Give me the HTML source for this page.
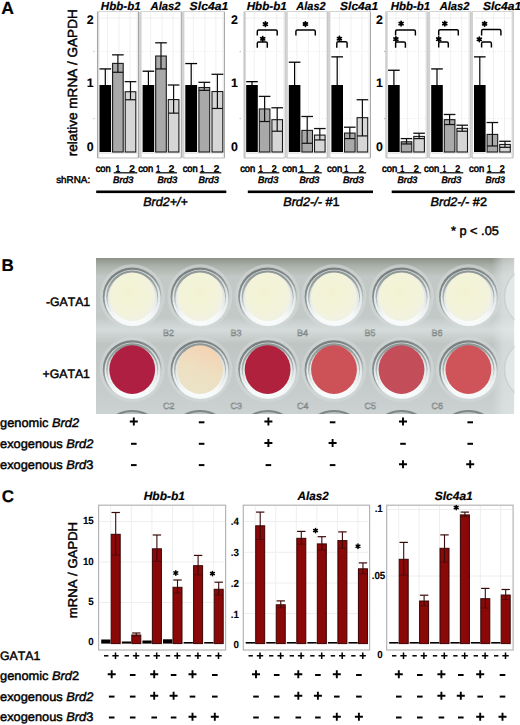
<!DOCTYPE html>
<html><head><meta charset="utf-8"><style>
html,body{margin:0;padding:0;background:#fff;}
svg{display:block;}
text{font-kerning:none;text-rendering:geometricPrecision;}
</style></head><body>
<svg width="520" height="725" viewBox="0 0 520 725" font-family='"Liberation Sans", sans-serif'>
<rect width="520" height="725" fill="#fff"/>
<text transform="translate(1.2,13.6) scale(1.0,1)" font-size="17.6" font-weight="bold" font-style="normal" text-anchor="start" fill="#000" stroke="#000" stroke-width="0.2" >A</text>
<text transform="translate(76.8,156.2) rotate(-90) scale(1.02,1)" font-size="13.3" fill="#000" stroke="#000" stroke-width="0.45">relative mRNA / GAPDH</text>
<rect x="97.50" y="11.50" width="41.00" height="146.50" fill="#fff" />
<line x1="97.50" y1="11.50" x2="97.50" y2="158.00" stroke="#a8a8a8" stroke-width="1.1" />
<rect x="98.00" y="11.50" width="1.30" height="146.50" fill="#dcdcdc" />
<line x1="138.50" y1="11.50" x2="138.50" y2="158.00" stroke="#a6a6a6" stroke-width="1.1" />
<rect x="136.70" y="11.50" width="1.20" height="146.50" fill="#ececec" />
<line x1="97.50" y1="11.50" x2="138.50" y2="11.50" stroke="#d4d4d4" stroke-width="1" />
<line x1="97.50" y1="158.00" x2="138.50" y2="158.00" stroke="#bdbdbd" stroke-width="1.2" />
<line x1="107.50" y1="12.50" x2="107.50" y2="152.00" stroke="#f0f0f0" stroke-width="1" />
<line x1="119.00" y1="12.50" x2="119.00" y2="152.00" stroke="#f0f0f0" stroke-width="1" />
<line x1="130.00" y1="12.50" x2="130.00" y2="152.00" stroke="#f0f0f0" stroke-width="1" />
<line x1="99.50" y1="118.50" x2="136.50" y2="118.50" stroke="#e9e9e9" stroke-width="1" stroke-dasharray="1,2"/>
<line x1="99.50" y1="51.50" x2="136.50" y2="51.50" stroke="#e9e9e9" stroke-width="1" stroke-dasharray="1,2"/>
<line x1="99.50" y1="18.00" x2="136.50" y2="18.00" stroke="#eeeeee" stroke-width="1" />
<line x1="98.50" y1="153.00" x2="137.50" y2="153.00" stroke="#d8d8d8" stroke-width="1" />
<rect x="99.50" y="85.00" width="11.60" height="67.00" fill="#000" />
<line x1="105.30" y1="68.92" x2="105.30" y2="85.00" stroke="#000" stroke-width="1.2" />
<line x1="99.50" y1="68.92" x2="111.10" y2="68.92" stroke="#000" stroke-width="1.3" />
<rect x="112.60" y="63.39" width="10.60" height="88.61" fill="#a9a9a9" stroke="#1a1a1a" stroke-width="1.1" />
<line x1="117.90" y1="54.85" x2="117.90" y2="72.27" stroke="#111" stroke-width="1.2" />
<line x1="112.10" y1="54.85" x2="123.70" y2="54.85" stroke="#111" stroke-width="1.3" />
<line x1="112.60" y1="72.27" x2="123.20" y2="72.27" stroke="#111" stroke-width="1.2" />
<rect x="125.20" y="91.73" width="10.60" height="60.27" fill="#d6d6d6" stroke="#1a1a1a" stroke-width="1.1" />
<line x1="130.50" y1="81.65" x2="130.50" y2="99.74" stroke="#111" stroke-width="1.2" />
<line x1="124.70" y1="81.65" x2="136.30" y2="81.65" stroke="#111" stroke-width="1.3" />
<line x1="125.20" y1="99.74" x2="135.80" y2="99.74" stroke="#111" stroke-width="1.2" />
<text transform="translate(100.85,9.6) scale(0.9969,1)" font-size="11.6" font-weight="bold" font-style="italic" text-anchor="start" fill="#000" stroke="#000" stroke-width="0.2" >Hbb-b1</text>
<rect x="140.60" y="11.50" width="41.00" height="146.50" fill="#fff" />
<rect x="139.00" y="11.50" width="2.60" height="146.50" fill="#d2d2d2" />
<line x1="181.60" y1="11.50" x2="181.60" y2="158.00" stroke="#a6a6a6" stroke-width="1.1" />
<rect x="179.80" y="11.50" width="1.20" height="146.50" fill="#ececec" />
<line x1="140.60" y1="11.50" x2="181.60" y2="11.50" stroke="#d4d4d4" stroke-width="1" />
<line x1="140.60" y1="158.00" x2="181.60" y2="158.00" stroke="#bdbdbd" stroke-width="1.2" />
<line x1="150.60" y1="12.50" x2="150.60" y2="152.00" stroke="#f0f0f0" stroke-width="1" />
<line x1="162.10" y1="12.50" x2="162.10" y2="152.00" stroke="#f0f0f0" stroke-width="1" />
<line x1="173.10" y1="12.50" x2="173.10" y2="152.00" stroke="#f0f0f0" stroke-width="1" />
<line x1="142.60" y1="118.50" x2="179.60" y2="118.50" stroke="#e9e9e9" stroke-width="1" stroke-dasharray="1,2"/>
<line x1="142.60" y1="51.50" x2="179.60" y2="51.50" stroke="#e9e9e9" stroke-width="1" stroke-dasharray="1,2"/>
<line x1="142.60" y1="18.00" x2="179.60" y2="18.00" stroke="#eeeeee" stroke-width="1" />
<line x1="141.60" y1="153.00" x2="180.60" y2="153.00" stroke="#d8d8d8" stroke-width="1" />
<rect x="142.60" y="85.00" width="11.60" height="67.00" fill="#000" />
<line x1="148.40" y1="71.20" x2="148.40" y2="85.00" stroke="#000" stroke-width="1.2" />
<line x1="142.60" y1="71.20" x2="154.20" y2="71.20" stroke="#000" stroke-width="1.3" />
<rect x="155.70" y="56.02" width="10.60" height="95.98" fill="#a9a9a9" stroke="#1a1a1a" stroke-width="1.1" />
<line x1="161.00" y1="42.79" x2="161.00" y2="68.92" stroke="#111" stroke-width="1.2" />
<line x1="155.20" y1="42.79" x2="166.80" y2="42.79" stroke="#111" stroke-width="1.3" />
<line x1="155.70" y1="68.92" x2="166.30" y2="68.92" stroke="#111" stroke-width="1.2" />
<rect x="168.30" y="99.57" width="10.60" height="52.43" fill="#d6d6d6" stroke="#1a1a1a" stroke-width="1.1" />
<line x1="173.60" y1="85.00" x2="173.60" y2="113.14" stroke="#111" stroke-width="1.2" />
<line x1="167.80" y1="85.00" x2="179.40" y2="85.00" stroke="#111" stroke-width="1.3" />
<line x1="168.30" y1="113.14" x2="178.90" y2="113.14" stroke="#111" stroke-width="1.2" />
<text transform="translate(150.58,9.6) scale(0.9687,1)" font-size="11.6" font-weight="bold" font-style="italic" text-anchor="start" fill="#000" stroke="#000" stroke-width="0.2" >Alas2</text>
<rect x="183.40" y="11.50" width="41.00" height="146.50" fill="#fff" />
<rect x="181.80" y="11.50" width="2.60" height="146.50" fill="#d2d2d2" />
<line x1="224.40" y1="11.50" x2="224.40" y2="158.00" stroke="#a6a6a6" stroke-width="1.1" />
<rect x="222.60" y="11.50" width="1.20" height="146.50" fill="#ececec" />
<line x1="183.40" y1="11.50" x2="224.40" y2="11.50" stroke="#d4d4d4" stroke-width="1" />
<line x1="183.40" y1="158.00" x2="224.40" y2="158.00" stroke="#bdbdbd" stroke-width="1.2" />
<line x1="193.40" y1="12.50" x2="193.40" y2="152.00" stroke="#f0f0f0" stroke-width="1" />
<line x1="204.90" y1="12.50" x2="204.90" y2="152.00" stroke="#f0f0f0" stroke-width="1" />
<line x1="215.90" y1="12.50" x2="215.90" y2="152.00" stroke="#f0f0f0" stroke-width="1" />
<line x1="185.40" y1="118.50" x2="222.40" y2="118.50" stroke="#e9e9e9" stroke-width="1" stroke-dasharray="1,2"/>
<line x1="185.40" y1="51.50" x2="222.40" y2="51.50" stroke="#e9e9e9" stroke-width="1" stroke-dasharray="1,2"/>
<line x1="185.40" y1="18.00" x2="222.40" y2="18.00" stroke="#eeeeee" stroke-width="1" />
<line x1="184.40" y1="153.00" x2="223.40" y2="153.00" stroke="#d8d8d8" stroke-width="1" />
<rect x="185.30" y="85.00" width="11.80" height="67.00" fill="#000" />
<line x1="191.20" y1="63.56" x2="191.20" y2="85.00" stroke="#000" stroke-width="1.2" />
<line x1="185.30" y1="63.56" x2="197.10" y2="63.56" stroke="#000" stroke-width="1.3" />
<rect x="198.90" y="87.51" width="10.80" height="64.49" fill="#a9a9a9" stroke="#1a1a1a" stroke-width="1.1" />
<line x1="204.30" y1="82.32" x2="204.30" y2="90.36" stroke="#111" stroke-width="1.2" />
<line x1="198.40" y1="82.32" x2="210.20" y2="82.32" stroke="#111" stroke-width="1.3" />
<line x1="198.90" y1="90.36" x2="209.70" y2="90.36" stroke="#111" stroke-width="1.2" />
<rect x="212.00" y="91.53" width="10.80" height="60.47" fill="#d6d6d6" stroke="#1a1a1a" stroke-width="1.1" />
<line x1="217.40" y1="74.28" x2="217.40" y2="108.45" stroke="#111" stroke-width="1.2" />
<line x1="211.50" y1="74.28" x2="223.30" y2="74.28" stroke="#111" stroke-width="1.3" />
<line x1="212.00" y1="108.45" x2="222.80" y2="108.45" stroke="#111" stroke-width="1.2" />
<text transform="translate(189.6,9.6) scale(1.0528,1)" font-size="11.6" font-weight="bold" font-style="italic" text-anchor="start" fill="#000" stroke="#000" stroke-width="0.2" >Slc4a1</text>
<rect x="244.20" y="11.50" width="41.00" height="146.50" fill="#fff" />
<line x1="244.20" y1="11.50" x2="244.20" y2="158.00" stroke="#a8a8a8" stroke-width="1.1" />
<rect x="244.70" y="11.50" width="1.30" height="146.50" fill="#dcdcdc" />
<line x1="285.20" y1="11.50" x2="285.20" y2="158.00" stroke="#a6a6a6" stroke-width="1.1" />
<rect x="283.40" y="11.50" width="1.20" height="146.50" fill="#ececec" />
<line x1="244.20" y1="11.50" x2="285.20" y2="11.50" stroke="#d4d4d4" stroke-width="1" />
<line x1="244.20" y1="158.00" x2="285.20" y2="158.00" stroke="#bdbdbd" stroke-width="1.2" />
<line x1="254.20" y1="12.50" x2="254.20" y2="152.00" stroke="#f0f0f0" stroke-width="1" />
<line x1="265.70" y1="12.50" x2="265.70" y2="152.00" stroke="#f0f0f0" stroke-width="1" />
<line x1="276.70" y1="12.50" x2="276.70" y2="152.00" stroke="#f0f0f0" stroke-width="1" />
<line x1="246.20" y1="118.50" x2="283.20" y2="118.50" stroke="#e9e9e9" stroke-width="1" stroke-dasharray="1,2"/>
<line x1="246.20" y1="51.50" x2="283.20" y2="51.50" stroke="#e9e9e9" stroke-width="1" stroke-dasharray="1,2"/>
<line x1="246.20" y1="18.00" x2="283.20" y2="18.00" stroke="#eeeeee" stroke-width="1" />
<line x1="245.20" y1="153.00" x2="284.20" y2="153.00" stroke="#d8d8d8" stroke-width="1" />
<rect x="246.20" y="85.00" width="11.60" height="67.00" fill="#000" />
<line x1="252.00" y1="81.65" x2="252.00" y2="85.00" stroke="#000" stroke-width="1.2" />
<line x1="246.20" y1="81.65" x2="257.80" y2="81.65" stroke="#000" stroke-width="1.3" />
<rect x="259.30" y="108.95" width="10.60" height="43.05" fill="#a9a9a9" stroke="#1a1a1a" stroke-width="1.1" />
<line x1="264.60" y1="96.39" x2="264.60" y2="121.52" stroke="#111" stroke-width="1.2" />
<line x1="258.80" y1="96.39" x2="270.40" y2="96.39" stroke="#111" stroke-width="1.3" />
<line x1="259.30" y1="121.52" x2="269.90" y2="121.52" stroke="#111" stroke-width="1.2" />
<rect x="271.90" y="119.67" width="10.60" height="32.33" fill="#d6d6d6" stroke="#1a1a1a" stroke-width="1.1" />
<line x1="277.20" y1="107.78" x2="277.20" y2="131.23" stroke="#111" stroke-width="1.2" />
<line x1="271.40" y1="107.78" x2="283.00" y2="107.78" stroke="#111" stroke-width="1.3" />
<line x1="271.90" y1="131.23" x2="282.50" y2="131.23" stroke="#111" stroke-width="1.2" />
<text transform="translate(246.65,9.6) scale(1.0046,1)" font-size="11.6" font-weight="bold" font-style="italic" text-anchor="start" fill="#000" stroke="#000" stroke-width="0.2" >Hbb-b1</text>
<rect x="286.80" y="11.50" width="41.00" height="146.50" fill="#fff" />
<rect x="285.20" y="11.50" width="2.60" height="146.50" fill="#d2d2d2" />
<line x1="327.80" y1="11.50" x2="327.80" y2="158.00" stroke="#a6a6a6" stroke-width="1.1" />
<rect x="326.00" y="11.50" width="1.20" height="146.50" fill="#ececec" />
<line x1="286.80" y1="11.50" x2="327.80" y2="11.50" stroke="#d4d4d4" stroke-width="1" />
<line x1="286.80" y1="158.00" x2="327.80" y2="158.00" stroke="#bdbdbd" stroke-width="1.2" />
<line x1="296.80" y1="12.50" x2="296.80" y2="152.00" stroke="#f0f0f0" stroke-width="1" />
<line x1="308.30" y1="12.50" x2="308.30" y2="152.00" stroke="#f0f0f0" stroke-width="1" />
<line x1="319.30" y1="12.50" x2="319.30" y2="152.00" stroke="#f0f0f0" stroke-width="1" />
<line x1="288.80" y1="118.50" x2="325.80" y2="118.50" stroke="#e9e9e9" stroke-width="1" stroke-dasharray="1,2"/>
<line x1="288.80" y1="51.50" x2="325.80" y2="51.50" stroke="#e9e9e9" stroke-width="1" stroke-dasharray="1,2"/>
<line x1="288.80" y1="18.00" x2="325.80" y2="18.00" stroke="#eeeeee" stroke-width="1" />
<line x1="287.80" y1="153.00" x2="326.80" y2="153.00" stroke="#d8d8d8" stroke-width="1" />
<rect x="288.80" y="85.00" width="11.60" height="67.00" fill="#000" />
<line x1="294.60" y1="62.22" x2="294.60" y2="85.00" stroke="#000" stroke-width="1.2" />
<line x1="288.80" y1="62.22" x2="300.40" y2="62.22" stroke="#000" stroke-width="1.3" />
<rect x="301.90" y="130.39" width="10.60" height="21.61" fill="#a9a9a9" stroke="#1a1a1a" stroke-width="1.1" />
<line x1="307.20" y1="116.49" x2="307.20" y2="143.29" stroke="#111" stroke-width="1.2" />
<line x1="301.40" y1="116.49" x2="313.00" y2="116.49" stroke="#111" stroke-width="1.3" />
<line x1="301.90" y1="143.29" x2="312.50" y2="143.29" stroke="#111" stroke-width="1.2" />
<rect x="314.50" y="135.08" width="10.60" height="16.92" fill="#d6d6d6" stroke="#1a1a1a" stroke-width="1.1" />
<line x1="319.80" y1="128.55" x2="319.80" y2="139.94" stroke="#111" stroke-width="1.2" />
<line x1="314.00" y1="128.55" x2="325.60" y2="128.55" stroke="#111" stroke-width="1.3" />
<line x1="314.50" y1="139.94" x2="325.10" y2="139.94" stroke="#111" stroke-width="1.2" />
<text transform="translate(296.37,9.6) scale(0.9429,1)" font-size="11.6" font-weight="bold" font-style="italic" text-anchor="start" fill="#000" stroke="#000" stroke-width="0.2" >Alas2</text>
<rect x="329.40" y="11.50" width="41.00" height="146.50" fill="#fff" />
<rect x="327.80" y="11.50" width="2.60" height="146.50" fill="#d2d2d2" />
<line x1="370.40" y1="11.50" x2="370.40" y2="158.00" stroke="#a6a6a6" stroke-width="1.1" />
<rect x="368.60" y="11.50" width="1.20" height="146.50" fill="#ececec" />
<line x1="329.40" y1="11.50" x2="370.40" y2="11.50" stroke="#d4d4d4" stroke-width="1" />
<line x1="329.40" y1="158.00" x2="370.40" y2="158.00" stroke="#bdbdbd" stroke-width="1.2" />
<line x1="339.40" y1="12.50" x2="339.40" y2="152.00" stroke="#f0f0f0" stroke-width="1" />
<line x1="350.90" y1="12.50" x2="350.90" y2="152.00" stroke="#f0f0f0" stroke-width="1" />
<line x1="361.90" y1="12.50" x2="361.90" y2="152.00" stroke="#f0f0f0" stroke-width="1" />
<line x1="331.40" y1="118.50" x2="368.40" y2="118.50" stroke="#e9e9e9" stroke-width="1" stroke-dasharray="1,2"/>
<line x1="331.40" y1="51.50" x2="368.40" y2="51.50" stroke="#e9e9e9" stroke-width="1" stroke-dasharray="1,2"/>
<line x1="331.40" y1="18.00" x2="368.40" y2="18.00" stroke="#eeeeee" stroke-width="1" />
<line x1="330.40" y1="153.00" x2="369.40" y2="153.00" stroke="#d8d8d8" stroke-width="1" />
<rect x="331.40" y="85.00" width="11.60" height="67.00" fill="#000" />
<line x1="337.20" y1="56.86" x2="337.20" y2="85.00" stroke="#000" stroke-width="1.2" />
<line x1="331.40" y1="56.86" x2="343.00" y2="56.86" stroke="#000" stroke-width="1.3" />
<rect x="344.50" y="133.07" width="10.60" height="18.93" fill="#a9a9a9" stroke="#1a1a1a" stroke-width="1.1" />
<line x1="349.80" y1="127.21" x2="349.80" y2="138.60" stroke="#111" stroke-width="1.2" />
<line x1="344.00" y1="127.21" x2="355.60" y2="127.21" stroke="#111" stroke-width="1.3" />
<line x1="344.50" y1="138.60" x2="355.10" y2="138.60" stroke="#111" stroke-width="1.2" />
<rect x="357.10" y="117.66" width="10.60" height="34.34" fill="#d6d6d6" stroke="#1a1a1a" stroke-width="1.1" />
<line x1="362.40" y1="99.74" x2="362.40" y2="135.92" stroke="#111" stroke-width="1.2" />
<line x1="356.60" y1="99.74" x2="368.20" y2="99.74" stroke="#111" stroke-width="1.3" />
<line x1="357.10" y1="135.92" x2="367.70" y2="135.92" stroke="#111" stroke-width="1.2" />
<text transform="translate(340.1,9.6) scale(1.0333,1)" font-size="11.6" font-weight="bold" font-style="italic" text-anchor="start" fill="#000" stroke="#000" stroke-width="0.2" >Slc4a1</text>
<rect x="386.10" y="11.50" width="41.00" height="146.50" fill="#fff" />
<line x1="386.10" y1="11.50" x2="386.10" y2="158.00" stroke="#a8a8a8" stroke-width="1.1" />
<rect x="386.60" y="11.50" width="1.30" height="146.50" fill="#dcdcdc" />
<line x1="427.10" y1="11.50" x2="427.10" y2="158.00" stroke="#a6a6a6" stroke-width="1.1" />
<rect x="425.30" y="11.50" width="1.20" height="146.50" fill="#ececec" />
<line x1="386.10" y1="11.50" x2="427.10" y2="11.50" stroke="#d4d4d4" stroke-width="1" />
<line x1="386.10" y1="158.00" x2="427.10" y2="158.00" stroke="#bdbdbd" stroke-width="1.2" />
<line x1="396.10" y1="12.50" x2="396.10" y2="152.00" stroke="#f0f0f0" stroke-width="1" />
<line x1="407.60" y1="12.50" x2="407.60" y2="152.00" stroke="#f0f0f0" stroke-width="1" />
<line x1="418.60" y1="12.50" x2="418.60" y2="152.00" stroke="#f0f0f0" stroke-width="1" />
<line x1="388.10" y1="118.50" x2="425.10" y2="118.50" stroke="#e9e9e9" stroke-width="1" stroke-dasharray="1,2"/>
<line x1="388.10" y1="51.50" x2="425.10" y2="51.50" stroke="#e9e9e9" stroke-width="1" stroke-dasharray="1,2"/>
<line x1="388.10" y1="18.00" x2="425.10" y2="18.00" stroke="#eeeeee" stroke-width="1" />
<line x1="387.10" y1="153.00" x2="426.10" y2="153.00" stroke="#d8d8d8" stroke-width="1" />
<rect x="388.10" y="85.00" width="11.60" height="67.00" fill="#000" />
<line x1="393.90" y1="70.26" x2="393.90" y2="85.00" stroke="#000" stroke-width="1.2" />
<line x1="388.10" y1="70.26" x2="399.70" y2="70.26" stroke="#000" stroke-width="1.3" />
<rect x="401.20" y="141.78" width="10.60" height="10.22" fill="#a9a9a9" stroke="#1a1a1a" stroke-width="1.1" />
<line x1="406.50" y1="138.60" x2="406.50" y2="143.96" stroke="#111" stroke-width="1.2" />
<line x1="400.70" y1="138.60" x2="412.30" y2="138.60" stroke="#111" stroke-width="1.3" />
<line x1="401.20" y1="143.96" x2="411.80" y2="143.96" stroke="#111" stroke-width="1.2" />
<rect x="413.80" y="136.42" width="10.60" height="15.58" fill="#d6d6d6" stroke="#1a1a1a" stroke-width="1.1" />
<line x1="419.10" y1="133.24" x2="419.10" y2="138.60" stroke="#111" stroke-width="1.2" />
<line x1="413.30" y1="133.24" x2="424.90" y2="133.24" stroke="#111" stroke-width="1.3" />
<line x1="413.80" y1="138.60" x2="424.40" y2="138.60" stroke="#111" stroke-width="1.2" />
<text transform="translate(390.75,9.6) scale(0.9892,1)" font-size="11.6" font-weight="bold" font-style="italic" text-anchor="start" fill="#000" stroke="#000" stroke-width="0.2" >Hbb-b1</text>
<rect x="429.20" y="11.50" width="41.00" height="146.50" fill="#fff" />
<rect x="427.60" y="11.50" width="2.60" height="146.50" fill="#d2d2d2" />
<line x1="470.20" y1="11.50" x2="470.20" y2="158.00" stroke="#a6a6a6" stroke-width="1.1" />
<rect x="468.40" y="11.50" width="1.20" height="146.50" fill="#ececec" />
<line x1="429.20" y1="11.50" x2="470.20" y2="11.50" stroke="#d4d4d4" stroke-width="1" />
<line x1="429.20" y1="158.00" x2="470.20" y2="158.00" stroke="#bdbdbd" stroke-width="1.2" />
<line x1="439.20" y1="12.50" x2="439.20" y2="152.00" stroke="#f0f0f0" stroke-width="1" />
<line x1="450.70" y1="12.50" x2="450.70" y2="152.00" stroke="#f0f0f0" stroke-width="1" />
<line x1="461.70" y1="12.50" x2="461.70" y2="152.00" stroke="#f0f0f0" stroke-width="1" />
<line x1="431.20" y1="118.50" x2="468.20" y2="118.50" stroke="#e9e9e9" stroke-width="1" stroke-dasharray="1,2"/>
<line x1="431.20" y1="51.50" x2="468.20" y2="51.50" stroke="#e9e9e9" stroke-width="1" stroke-dasharray="1,2"/>
<line x1="431.20" y1="18.00" x2="468.20" y2="18.00" stroke="#eeeeee" stroke-width="1" />
<line x1="430.20" y1="153.00" x2="469.20" y2="153.00" stroke="#d8d8d8" stroke-width="1" />
<rect x="431.20" y="85.00" width="11.60" height="67.00" fill="#000" />
<line x1="437.00" y1="68.92" x2="437.00" y2="85.00" stroke="#000" stroke-width="1.2" />
<line x1="431.20" y1="68.92" x2="442.80" y2="68.92" stroke="#000" stroke-width="1.3" />
<rect x="444.30" y="119.67" width="10.60" height="32.33" fill="#a9a9a9" stroke="#1a1a1a" stroke-width="1.1" />
<line x1="449.60" y1="114.48" x2="449.60" y2="124.53" stroke="#111" stroke-width="1.2" />
<line x1="443.80" y1="114.48" x2="455.40" y2="114.48" stroke="#111" stroke-width="1.3" />
<line x1="444.30" y1="124.53" x2="454.90" y2="124.53" stroke="#111" stroke-width="1.2" />
<rect x="456.90" y="128.38" width="10.60" height="23.62" fill="#d6d6d6" stroke="#1a1a1a" stroke-width="1.1" />
<line x1="462.20" y1="125.20" x2="462.20" y2="131.23" stroke="#111" stroke-width="1.2" />
<line x1="456.40" y1="125.20" x2="468.00" y2="125.20" stroke="#111" stroke-width="1.3" />
<line x1="456.90" y1="131.23" x2="467.50" y2="131.23" stroke="#111" stroke-width="1.2" />
<text transform="translate(439.68,9.6) scale(0.9622,1)" font-size="11.6" font-weight="bold" font-style="italic" text-anchor="start" fill="#000" stroke="#000" stroke-width="0.2" >Alas2</text>
<rect x="472.00" y="11.50" width="41.00" height="146.50" fill="#fff" />
<rect x="470.40" y="11.50" width="2.60" height="146.50" fill="#d2d2d2" />
<line x1="513.00" y1="11.50" x2="513.00" y2="158.00" stroke="#a6a6a6" stroke-width="1.1" />
<rect x="511.20" y="11.50" width="1.20" height="146.50" fill="#ececec" />
<line x1="472.00" y1="11.50" x2="513.00" y2="11.50" stroke="#d4d4d4" stroke-width="1" />
<line x1="472.00" y1="158.00" x2="513.00" y2="158.00" stroke="#bdbdbd" stroke-width="1.2" />
<line x1="482.00" y1="12.50" x2="482.00" y2="152.00" stroke="#f0f0f0" stroke-width="1" />
<line x1="493.50" y1="12.50" x2="493.50" y2="152.00" stroke="#f0f0f0" stroke-width="1" />
<line x1="504.50" y1="12.50" x2="504.50" y2="152.00" stroke="#f0f0f0" stroke-width="1" />
<line x1="474.00" y1="118.50" x2="511.00" y2="118.50" stroke="#e9e9e9" stroke-width="1" stroke-dasharray="1,2"/>
<line x1="474.00" y1="51.50" x2="511.00" y2="51.50" stroke="#e9e9e9" stroke-width="1" stroke-dasharray="1,2"/>
<line x1="474.00" y1="18.00" x2="511.00" y2="18.00" stroke="#eeeeee" stroke-width="1" />
<line x1="473.00" y1="153.00" x2="512.00" y2="153.00" stroke="#d8d8d8" stroke-width="1" />
<rect x="474.00" y="85.00" width="11.60" height="67.00" fill="#000" />
<line x1="479.80" y1="56.86" x2="479.80" y2="85.00" stroke="#000" stroke-width="1.2" />
<line x1="474.00" y1="56.86" x2="485.60" y2="56.86" stroke="#000" stroke-width="1.3" />
<rect x="487.10" y="134.41" width="10.60" height="17.59" fill="#a9a9a9" stroke="#1a1a1a" stroke-width="1.1" />
<line x1="492.40" y1="122.52" x2="492.40" y2="145.97" stroke="#111" stroke-width="1.2" />
<line x1="486.60" y1="122.52" x2="498.20" y2="122.52" stroke="#111" stroke-width="1.3" />
<line x1="487.10" y1="145.97" x2="497.70" y2="145.97" stroke="#111" stroke-width="1.2" />
<rect x="499.70" y="144.46" width="10.60" height="7.54" fill="#d6d6d6" stroke="#1a1a1a" stroke-width="1.1" />
<line x1="505.00" y1="141.28" x2="505.00" y2="147.31" stroke="#111" stroke-width="1.2" />
<line x1="499.20" y1="141.28" x2="510.80" y2="141.28" stroke="#111" stroke-width="1.3" />
<line x1="499.70" y1="147.31" x2="510.30" y2="147.31" stroke="#111" stroke-width="1.2" />
<text transform="translate(482.9,9.6) scale(1.0416,1)" font-size="11.6" font-weight="bold" font-style="italic" text-anchor="start" fill="#000" stroke="#000" stroke-width="0.2" >Slc4a1</text>
<text transform="translate(93.6,23.8) scale(1.0,1)" font-size="12.4" font-weight="bold" font-style="normal" text-anchor="end" fill="#000" stroke="#000" stroke-width="0.1" >2</text>
<text transform="translate(93.6,87.3) scale(1.0,1)" font-size="12.4" font-weight="bold" font-style="normal" text-anchor="end" fill="#000" stroke="#000" stroke-width="0.1" >1</text>
<text transform="translate(93.6,151.3) scale(1.0,1)" font-size="12.4" font-weight="bold" font-style="normal" text-anchor="end" fill="#000" stroke="#000" stroke-width="0.1" >0</text>
<text transform="translate(238.0,23.8) scale(1.0,1)" font-size="12.4" font-weight="bold" font-style="normal" text-anchor="end" fill="#000" stroke="#000" stroke-width="0.1" >2</text>
<text transform="translate(238.0,87.3) scale(1.0,1)" font-size="12.4" font-weight="bold" font-style="normal" text-anchor="end" fill="#000" stroke="#000" stroke-width="0.1" >1</text>
<text transform="translate(238.0,151.3) scale(1.0,1)" font-size="12.4" font-weight="bold" font-style="normal" text-anchor="end" fill="#000" stroke="#000" stroke-width="0.1" >0</text>
<text transform="translate(383.0,23.8) scale(1.0,1)" font-size="12.4" font-weight="bold" font-style="normal" text-anchor="end" fill="#000" stroke="#000" stroke-width="0.1" >2</text>
<text transform="translate(383.0,87.3) scale(1.0,1)" font-size="12.4" font-weight="bold" font-style="normal" text-anchor="end" fill="#000" stroke="#000" stroke-width="0.1" >1</text>
<text transform="translate(383.0,151.3) scale(1.0,1)" font-size="12.4" font-weight="bold" font-style="normal" text-anchor="end" fill="#000" stroke="#000" stroke-width="0.1" >0</text>
<circle cx="94.0" cy="118.5" r="0.7" fill="#bbb"/>
<circle cx="94.0" cy="51.5" r="0.7" fill="#bbb"/>
<circle cx="240.2" cy="118.5" r="0.7" fill="#bbb"/>
<circle cx="240.2" cy="51.5" r="0.7" fill="#bbb"/>
<circle cx="384.6" cy="118.5" r="0.7" fill="#bbb"/>
<circle cx="384.6" cy="51.5" r="0.7" fill="#bbb"/>
<path d="M257.3,35.6 L257.3,31.4 Q257.3,30.0 258.7,30.0 L275.8,30.0 Q277.2,30.0 277.2,31.4 L277.2,35.6" fill="none" stroke="#000" stroke-width="1.45"/>
<path d="M265.40,21.85L265.40,26.35M267.35,22.97L263.45,25.22M267.35,25.22L263.45,22.97" stroke="#000" stroke-width="1.75" stroke-linecap="round"/>
<circle cx="265.40" cy="24.10" r="1.2" fill="#000"/>
<path d="M257.3,47.7 L257.3,43.3 Q257.3,41.9 258.7,41.9 L265.9,41.9 Q267.3,41.9 267.3,43.3 L267.3,47.7" fill="none" stroke="#000" stroke-width="1.45"/>
<path d="M262.70,36.55L262.70,41.05M264.65,37.67L260.75,39.92M264.65,39.92L260.75,37.67" stroke="#000" stroke-width="1.75" stroke-linecap="round"/>
<circle cx="262.70" cy="38.80" r="1.2" fill="#000"/>
<path d="M295.9,35.6 L295.9,31.4 Q295.9,30.0 297.3,30.0 L313.9,30.0 Q315.3,30.0 315.3,31.4 L315.3,35.6" fill="none" stroke="#000" stroke-width="1.45"/>
<path d="M305.40,21.75L305.40,26.25M307.35,22.88L303.45,25.12M307.35,25.12L303.45,22.88" stroke="#000" stroke-width="1.75" stroke-linecap="round"/>
<circle cx="305.40" cy="24.00" r="1.2" fill="#000"/>
<path d="M336.8,47.7 L336.8,43.2 Q336.8,41.8 338.2,41.8 L345.7,41.8 Q347.1,41.8 347.1,43.2 L347.1,47.7" fill="none" stroke="#000" stroke-width="1.45"/>
<path d="M339.40,36.45L339.40,40.95M341.35,37.57L337.45,39.82M341.35,39.82L337.45,37.57" stroke="#000" stroke-width="1.75" stroke-linecap="round"/>
<circle cx="339.40" cy="38.70" r="1.2" fill="#000"/>
<path d="M395.6,35.6 L395.6,31.4 Q395.6,30.0 397.0,30.0 L414.0,30.0 Q415.4,30.0 415.4,31.4 L415.4,35.6" fill="none" stroke="#000" stroke-width="1.45"/>
<path d="M401.10,21.35L401.10,25.85M403.05,22.47L399.15,24.72M403.05,24.72L399.15,22.47" stroke="#000" stroke-width="1.75" stroke-linecap="round"/>
<circle cx="401.10" cy="23.60" r="1.2" fill="#000"/>
<path d="M395.6,47.7 L395.6,43.3 Q395.6,41.9 397.0,41.9 L404.0,41.9 Q405.4,41.9 405.4,43.3 L405.4,47.7" fill="none" stroke="#000" stroke-width="1.45"/>
<path d="M395.90,36.85L395.90,41.35M397.85,37.98L393.95,40.23M397.85,40.23L393.95,37.98" stroke="#000" stroke-width="1.75" stroke-linecap="round"/>
<circle cx="395.90" cy="39.10" r="1.2" fill="#000"/>
<path d="M438.7,35.5 L438.7,31.1 Q438.7,29.7 440.1,29.7 L456.9,29.7 Q458.3,29.7 458.3,31.1 L458.3,35.5" fill="none" stroke="#000" stroke-width="1.45"/>
<path d="M444.80,21.35L444.80,25.85M446.75,22.47L442.85,24.72M446.75,24.72L442.85,22.47" stroke="#000" stroke-width="1.75" stroke-linecap="round"/>
<circle cx="444.80" cy="23.60" r="1.2" fill="#000"/>
<path d="M438.7,47.6 L438.7,43.4 Q438.7,42.0 440.1,42.0 L446.9,42.0 Q448.3,42.0 448.3,43.4 L448.3,47.6" fill="none" stroke="#000" stroke-width="1.45"/>
<path d="M438.70,36.85L438.70,41.35M440.65,37.98L436.75,40.23M440.65,40.23L436.75,37.98" stroke="#000" stroke-width="1.75" stroke-linecap="round"/>
<circle cx="438.70" cy="39.10" r="1.2" fill="#000"/>
<path d="M481.6,35.5 L481.6,30.9 Q481.6,29.5 483.0,29.5 L499.5,29.5 Q500.9,29.5 500.9,30.9 L500.9,35.5" fill="none" stroke="#000" stroke-width="1.45"/>
<path d="M484.60,21.55L484.60,26.05M486.55,22.67L482.65,24.92M486.55,24.92L482.65,22.67" stroke="#000" stroke-width="1.75" stroke-linecap="round"/>
<circle cx="484.60" cy="23.80" r="1.2" fill="#000"/>
<path d="M481.6,47.6 L481.6,43.4 Q481.6,42.0 483.0,42.0 L490.0,42.0 Q491.4,42.0 491.4,43.4 L491.4,47.6" fill="none" stroke="#000" stroke-width="1.45"/>
<path d="M479.30,37.05L479.30,41.55M481.25,38.17L477.35,40.42M481.25,40.42L477.35,38.17" stroke="#000" stroke-width="1.75" stroke-linecap="round"/>
<circle cx="479.30" cy="39.30" r="1.2" fill="#000"/>
<text transform="translate(95.65,171.8) scale(0.9186,1)" font-size="10.2" font-weight="normal" font-style="normal" text-anchor="start" fill="#000" stroke="#000" stroke-width="0.55" >con</text>
<text transform="translate(115.61,171.8) scale(0.8698,1)" font-size="9.6" font-weight="normal" font-style="normal" text-anchor="start" fill="#000" stroke="#000" stroke-width="0.6" >1</text>
<text transform="translate(129.25,171.8) scale(1.0289,1)" font-size="9.6" font-weight="normal" font-style="normal" text-anchor="start" fill="#000" stroke="#000" stroke-width="0.6" >2</text>
<line x1="113.70" y1="172.80" x2="137.30" y2="172.80" stroke="#000" stroke-width="1.2" />
<text transform="translate(113.05,182.9) scale(1.0214,1)" font-size="9.4" font-weight="normal" font-style="italic" text-anchor="start" fill="#000" stroke="#000" stroke-width="0.5" >Brd3</text>
<text transform="translate(138.15,171.8) scale(0.9186,1)" font-size="10.2" font-weight="normal" font-style="normal" text-anchor="start" fill="#000" stroke="#000" stroke-width="0.55" >con</text>
<text transform="translate(156.32,171.8) scale(0.7248,1)" font-size="9.6" font-weight="normal" font-style="normal" text-anchor="start" fill="#000" stroke="#000" stroke-width="0.6" >1</text>
<text transform="translate(168.85,171.8) scale(1.0289,1)" font-size="9.6" font-weight="normal" font-style="normal" text-anchor="start" fill="#000" stroke="#000" stroke-width="0.6" >2</text>
<line x1="155.70" y1="172.80" x2="176.90" y2="172.80" stroke="#000" stroke-width="1.2" />
<text transform="translate(157.46,182.9) scale(0.9957,1)" font-size="9.4" font-weight="normal" font-style="italic" text-anchor="start" fill="#000" stroke="#000" stroke-width="0.5" >Brd3</text>
<text transform="translate(182.65,171.8) scale(0.9186,1)" font-size="10.2" font-weight="normal" font-style="normal" text-anchor="start" fill="#000" stroke="#000" stroke-width="0.55" >con</text>
<text transform="translate(200.32,171.8) scale(0.7248,1)" font-size="9.6" font-weight="normal" font-style="normal" text-anchor="start" fill="#000" stroke="#000" stroke-width="0.6" >1</text>
<text transform="translate(213.75,171.8) scale(1.0289,1)" font-size="9.6" font-weight="normal" font-style="normal" text-anchor="start" fill="#000" stroke="#000" stroke-width="0.6" >2</text>
<line x1="199.70" y1="172.80" x2="221.30" y2="172.80" stroke="#000" stroke-width="1.2" />
<text transform="translate(198.61,182.9) scale(1.0188,1)" font-size="9.4" font-weight="normal" font-style="italic" text-anchor="start" fill="#000" stroke="#000" stroke-width="0.5" >Brd3</text>
<text transform="translate(240.15,171.8) scale(0.9186,1)" font-size="10.2" font-weight="normal" font-style="normal" text-anchor="start" fill="#000" stroke="#000" stroke-width="0.55" >con</text>
<text transform="translate(258.7,171.8) scale(0.749,1)" font-size="9.6" font-weight="normal" font-style="normal" text-anchor="start" fill="#000" stroke="#000" stroke-width="0.6" >1</text>
<text transform="translate(271.81,171.8) scale(0.9146,1)" font-size="9.6" font-weight="normal" font-style="normal" text-anchor="start" fill="#000" stroke="#000" stroke-width="0.6" >2</text>
<line x1="257.70" y1="172.80" x2="279.30" y2="172.80" stroke="#000" stroke-width="1.2" />
<text transform="translate(258.06,182.9) scale(1.0162,1)" font-size="9.4" font-weight="normal" font-style="italic" text-anchor="start" fill="#000" stroke="#000" stroke-width="0.5" >Brd3</text>
<text transform="translate(282.15,171.8) scale(0.9186,1)" font-size="10.2" font-weight="normal" font-style="normal" text-anchor="start" fill="#000" stroke="#000" stroke-width="0.55" >con</text>
<text transform="translate(299.21,171.8) scale(0.8698,1)" font-size="9.6" font-weight="normal" font-style="normal" text-anchor="start" fill="#000" stroke="#000" stroke-width="0.6" >1</text>
<text transform="translate(314.31,171.8) scale(0.9146,1)" font-size="9.6" font-weight="normal" font-style="normal" text-anchor="start" fill="#000" stroke="#000" stroke-width="0.6" >2</text>
<line x1="297.80" y1="172.80" x2="321.80" y2="172.80" stroke="#000" stroke-width="1.2" />
<text transform="translate(299.56,182.9) scale(0.9957,1)" font-size="9.4" font-weight="normal" font-style="italic" text-anchor="start" fill="#000" stroke="#000" stroke-width="0.5" >Brd3</text>
<text transform="translate(327.05,171.8) scale(0.9186,1)" font-size="10.2" font-weight="normal" font-style="normal" text-anchor="start" fill="#000" stroke="#000" stroke-width="0.55" >con</text>
<text transform="translate(344.2,171.8) scale(0.749,1)" font-size="9.6" font-weight="normal" font-style="normal" text-anchor="start" fill="#000" stroke="#000" stroke-width="0.6" >1</text>
<text transform="translate(358.71,171.8) scale(0.9146,1)" font-size="9.6" font-weight="normal" font-style="normal" text-anchor="start" fill="#000" stroke="#000" stroke-width="0.6" >2</text>
<line x1="342.20" y1="172.80" x2="366.20" y2="172.80" stroke="#000" stroke-width="1.2" />
<text transform="translate(343.05,182.9) scale(1.0419,1)" font-size="9.4" font-weight="normal" font-style="italic" text-anchor="start" fill="#000" stroke="#000" stroke-width="0.5" >Brd3</text>
<text transform="translate(382.05,171.8) scale(0.9218,1)" font-size="10.2" font-weight="normal" font-style="normal" text-anchor="start" fill="#000" stroke="#000" stroke-width="0.55" >con</text>
<text transform="translate(400.2,171.8) scale(0.749,1)" font-size="9.6" font-weight="normal" font-style="normal" text-anchor="start" fill="#000" stroke="#000" stroke-width="0.6" >1</text>
<text transform="translate(413.7,171.8) scale(0.9375,1)" font-size="9.6" font-weight="normal" font-style="normal" text-anchor="start" fill="#000" stroke="#000" stroke-width="0.6" >2</text>
<line x1="397.20" y1="172.80" x2="421.30" y2="172.80" stroke="#000" stroke-width="1.2" />
<text transform="translate(397.56,182.9) scale(0.9957,1)" font-size="9.4" font-weight="normal" font-style="italic" text-anchor="start" fill="#000" stroke="#000" stroke-width="0.5" >Brd3</text>
<text transform="translate(424.05,171.8) scale(0.9218,1)" font-size="10.2" font-weight="normal" font-style="normal" text-anchor="start" fill="#000" stroke="#000" stroke-width="0.55" >con</text>
<text transform="translate(442.79,171.8) scale(0.6282,1)" font-size="9.6" font-weight="normal" font-style="normal" text-anchor="start" fill="#000" stroke="#000" stroke-width="0.6" >1</text>
<text transform="translate(455.31,171.8) scale(0.9146,1)" font-size="9.6" font-weight="normal" font-style="normal" text-anchor="start" fill="#000" stroke="#000" stroke-width="0.6" >2</text>
<line x1="439.70" y1="172.80" x2="463.30" y2="172.80" stroke="#000" stroke-width="1.2" />
<text transform="translate(441.46,182.9) scale(0.9957,1)" font-size="9.4" font-weight="normal" font-style="italic" text-anchor="start" fill="#000" stroke="#000" stroke-width="0.5" >Brd3</text>
<text transform="translate(469.05,171.8) scale(0.9218,1)" font-size="10.2" font-weight="normal" font-style="normal" text-anchor="start" fill="#000" stroke="#000" stroke-width="0.55" >con</text>
<text transform="translate(487.2,171.8) scale(0.749,1)" font-size="9.6" font-weight="normal" font-style="normal" text-anchor="start" fill="#000" stroke="#000" stroke-width="0.6" >1</text>
<text transform="translate(499.81,171.8) scale(0.9146,1)" font-size="9.6" font-weight="normal" font-style="normal" text-anchor="start" fill="#000" stroke="#000" stroke-width="0.6" >2</text>
<line x1="486.60" y1="172.80" x2="504.90" y2="172.80" stroke="#000" stroke-width="1.2" />
<text transform="translate(485.57,182.9) scale(0.97,1)" font-size="9.4" font-weight="normal" font-style="italic" text-anchor="start" fill="#000" stroke="#000" stroke-width="0.5" >Brd3</text>
<text transform="translate(56.13,182.9) scale(1.0078,1)" font-size="9.8" font-weight="normal" font-style="normal" text-anchor="start" fill="#000" stroke="#000" stroke-width="0.45" >shRNA:</text>
<rect x="96.20" y="190.50" width="130.10" height="2.60" fill="#000" />
<rect x="247.80" y="190.50" width="125.20" height="2.60" fill="#000" />
<rect x="391.70" y="190.50" width="123.10" height="2.60" fill="#000" />
<text transform="translate(143.27,205.6) scale(1.0172,1)" font-size="12.3" font-weight="normal" font-style="italic" text-anchor="start" fill="#000" stroke="#000" stroke-width="0.45" >Brd2+/+</text>
<text transform="translate(283.2,205.5) scale(1.03,1)" font-size="12.3" stroke="#000" stroke-width="0.45"><tspan font-style="italic">Brd2-/-</tspan> #1</text>
<text transform="translate(430.6,205.5) scale(1.03,1)" font-size="12.3" stroke="#000" stroke-width="0.45"><tspan font-style="italic">Brd2-/-</tspan> #2</text>
<text transform="translate(450.94,234.9) scale(1.022,1)" font-size="12.5" font-weight="normal" font-style="normal" text-anchor="start" fill="#000" stroke="#000" stroke-width="0.45" >* p &lt; .05</text>
<text transform="translate(1.5,270.5) scale(1.0,1)" font-size="17.0" font-weight="bold" font-style="normal" text-anchor="start" fill="#000" stroke="#000" stroke-width="0.2" >B</text>
<text transform="translate(45.91,305.9) scale(0.9959,1)" font-size="12.3" font-weight="normal" font-style="normal" text-anchor="start" fill="#000" stroke="#000" stroke-width="0.45" >-GATA1</text>
<text transform="translate(42.45,378.4) scale(0.9998,1)" font-size="12.3" font-weight="normal" font-style="normal" text-anchor="start" fill="#000" stroke="#000" stroke-width="0.45" >+GATA1</text>
<defs><linearGradient id="plate" x1="0" y1="0" x2="0" y2="1"><stop offset="0" stop-color="#8b9186"/><stop offset="0.05" stop-color="#aab1aa"/><stop offset="0.12" stop-color="#c2c8c5"/><stop offset="0.38" stop-color="#c3c9c7"/><stop offset="0.46" stop-color="#d5dbda"/><stop offset="0.55" stop-color="#bec5c3"/><stop offset="0.85" stop-color="#c6cccb"/><stop offset="1" stop-color="#ccd2d1"/></linearGradient><radialGradient id="cream" cx="0.45" cy="0.42" r="0.6"><stop offset="0" stop-color="#f2f2d2"/><stop offset="0.7" stop-color="#f3f3db"/><stop offset="1" stop-color="#f0f1e4"/></radialGradient><linearGradient id="peach" x1="0.7" y1="0" x2="0.3" y2="1"><stop offset="0" stop-color="#f3d2b2"/><stop offset="0.5" stop-color="#eedfc0"/><stop offset="1" stop-color="#eae3c9"/></linearGradient><radialGradient id="refl" cx="0.5" cy="0.5" r="0.5"><stop offset="0" stop-color="#ffffff" stop-opacity="0.95"/><stop offset="1" stop-color="#ffffff" stop-opacity="0"/></radialGradient><linearGradient id="ringg" x1="0.2" y1="0" x2="0.6" y2="1"><stop offset="0" stop-color="#737c7b"/><stop offset="0.45" stop-color="#8b9493"/><stop offset="0.75" stop-color="#bfc7c6"/><stop offset="1" stop-color="#eef3f3"/></linearGradient><linearGradient id="ring2" x1="0" y1="0" x2="0" y2="1"><stop offset="0" stop-color="#8c9594"/><stop offset="0.5" stop-color="#a9b1b0"/><stop offset="0.8" stop-color="#e3e8e8"/><stop offset="1" stop-color="#f4f7f7"/></linearGradient><linearGradient id="innerg" x1="0" y1="0" x2="0" y2="1"><stop offset="0" stop-color="#d2d8d7"/><stop offset="0.5" stop-color="#e3e8e8"/><stop offset="1" stop-color="#f8fbfb"/></linearGradient><clipPath id="photo"><rect x="96" y="258" width="418.3" height="156"/></clipPath></defs>
<g clip-path="url(#photo)">
<rect x="96.00" y="258.00" width="418.30" height="156.00" fill="url(#plate)" />
<circle cx="132.2" cy="442" r="31" fill="#b9c0bf" stroke="#7f8887" stroke-width="2.2"/>
<circle cx="200.0" cy="442" r="31" fill="#b9c0bf" stroke="#7f8887" stroke-width="2.2"/>
<circle cx="267.6" cy="442" r="31" fill="#b9c0bf" stroke="#7f8887" stroke-width="2.2"/>
<circle cx="334.0" cy="442" r="31" fill="#b9c0bf" stroke="#7f8887" stroke-width="2.2"/>
<circle cx="401.5" cy="442" r="31" fill="#b9c0bf" stroke="#7f8887" stroke-width="2.2"/>
<circle cx="468.4" cy="442" r="31" fill="#b9c0bf" stroke="#7f8887" stroke-width="2.2"/>
<circle cx="535.5" cy="442" r="31" fill="#b9c0bf" stroke="#7f8887" stroke-width="2.2"/>
<circle cx="535.5" cy="296.8" r="31" fill="#dde3e2" stroke="#aab2b1" stroke-width="1.5"/>
<circle cx="535.5" cy="369.6" r="31" fill="#dde3e2" stroke="#aab2b1" stroke-width="1.5"/>
<linearGradient id="rband" x1="0" y1="0" x2="1" y2="0"><stop offset="0" stop-color="#e6ecec" stop-opacity="0"/><stop offset="0.5" stop-color="#e6ecec" stop-opacity="0.5"/><stop offset="1" stop-color="#e6ecec" stop-opacity="0.6"/></linearGradient>
<rect x="492" y="258" width="22.3" height="156" fill="url(#rband)"/>
<circle cx="132.2" cy="296.8" r="32.5" fill="#d3d9d8" opacity="0.6"/>
<circle cx="132.2" cy="296.8" r="29.4" fill="url(#ringg)"/>
<circle cx="132.5" cy="297.8" r="28.0" fill="url(#innerg)"/>
<circle cx="132.2" cy="296.5" r="26.0" fill="url(#ring2)"/>
<circle cx="132.5" cy="298.1" r="24.9" fill="url(#innerg)"/>
<ellipse cx="132.2" cy="314.8" rx="24" ry="10" fill="url(#refl)"/>
<ellipse cx="132.2" cy="296.8" rx="22.9" ry="24.3" fill="url(#cream)"/>
<circle cx="200.0" cy="296.8" r="32.5" fill="#d3d9d8" opacity="0.6"/>
<circle cx="200.0" cy="296.8" r="29.4" fill="url(#ringg)"/>
<circle cx="200.3" cy="297.8" r="28.0" fill="url(#innerg)"/>
<circle cx="200.0" cy="296.5" r="26.0" fill="url(#ring2)"/>
<circle cx="200.3" cy="298.1" r="24.9" fill="url(#innerg)"/>
<ellipse cx="200.0" cy="314.8" rx="24" ry="10" fill="url(#refl)"/>
<ellipse cx="200.0" cy="296.8" rx="22.9" ry="24.3" fill="url(#cream)"/>
<circle cx="267.6" cy="296.8" r="32.5" fill="#d3d9d8" opacity="0.6"/>
<circle cx="267.6" cy="296.8" r="29.4" fill="url(#ringg)"/>
<circle cx="267.90000000000003" cy="297.8" r="28.0" fill="url(#innerg)"/>
<circle cx="267.6" cy="296.5" r="26.0" fill="url(#ring2)"/>
<circle cx="267.90000000000003" cy="298.1" r="24.9" fill="url(#innerg)"/>
<ellipse cx="267.6" cy="314.8" rx="24" ry="10" fill="url(#refl)"/>
<ellipse cx="267.6" cy="296.8" rx="22.9" ry="24.3" fill="url(#cream)"/>
<circle cx="334.0" cy="296.8" r="32.5" fill="#d3d9d8" opacity="0.6"/>
<circle cx="334.0" cy="296.8" r="29.4" fill="url(#ringg)"/>
<circle cx="334.3" cy="297.8" r="28.0" fill="url(#innerg)"/>
<circle cx="334.0" cy="296.5" r="26.0" fill="url(#ring2)"/>
<circle cx="334.3" cy="298.1" r="24.9" fill="url(#innerg)"/>
<ellipse cx="334.0" cy="314.8" rx="24" ry="10" fill="url(#refl)"/>
<ellipse cx="334.0" cy="296.8" rx="22.9" ry="24.3" fill="url(#cream)"/>
<circle cx="401.5" cy="296.8" r="32.5" fill="#d3d9d8" opacity="0.6"/>
<circle cx="401.5" cy="296.8" r="29.4" fill="url(#ringg)"/>
<circle cx="401.8" cy="297.8" r="28.0" fill="url(#innerg)"/>
<circle cx="401.5" cy="296.5" r="26.0" fill="url(#ring2)"/>
<circle cx="401.8" cy="298.1" r="24.9" fill="url(#innerg)"/>
<ellipse cx="401.5" cy="314.8" rx="24" ry="10" fill="url(#refl)"/>
<ellipse cx="401.5" cy="296.8" rx="22.9" ry="24.3" fill="url(#cream)"/>
<circle cx="468.4" cy="296.8" r="32.5" fill="#d3d9d8" opacity="0.6"/>
<circle cx="468.4" cy="296.8" r="29.4" fill="url(#ringg)"/>
<circle cx="468.7" cy="297.8" r="28.0" fill="url(#innerg)"/>
<circle cx="468.4" cy="296.5" r="26.0" fill="url(#ring2)"/>
<circle cx="468.7" cy="298.1" r="24.9" fill="url(#innerg)"/>
<ellipse cx="468.4" cy="314.8" rx="24" ry="10" fill="url(#refl)"/>
<ellipse cx="468.4" cy="296.8" rx="22.9" ry="24.3" fill="url(#cream)"/>
<circle cx="132.2" cy="369.6" r="32.5" fill="#d3d9d8" opacity="0.6"/>
<circle cx="132.2" cy="369.6" r="29.4" fill="url(#ringg)"/>
<circle cx="132.5" cy="370.6" r="28.0" fill="url(#innerg)"/>
<circle cx="132.2" cy="369.3" r="26.0" fill="url(#ring2)"/>
<circle cx="132.5" cy="370.90000000000003" r="24.9" fill="url(#innerg)"/>
<ellipse cx="132.2" cy="387.6" rx="24" ry="10" fill="url(#refl)"/>
<ellipse cx="132.2" cy="369.6" rx="22.9" ry="24.3" fill="#ae1f41"/>
<circle cx="200.0" cy="369.6" r="32.5" fill="#d3d9d8" opacity="0.6"/>
<circle cx="200.0" cy="369.6" r="29.4" fill="url(#ringg)"/>
<circle cx="200.3" cy="370.6" r="28.0" fill="url(#innerg)"/>
<circle cx="200.0" cy="369.3" r="26.0" fill="url(#ring2)"/>
<circle cx="200.3" cy="370.90000000000003" r="24.9" fill="url(#innerg)"/>
<ellipse cx="200.0" cy="387.6" rx="24" ry="10" fill="url(#refl)"/>
<ellipse cx="200.0" cy="369.6" rx="22.9" ry="24.3" fill="url(#peach)"/>
<circle cx="267.6" cy="369.6" r="32.5" fill="#d3d9d8" opacity="0.6"/>
<circle cx="267.6" cy="369.6" r="29.4" fill="url(#ringg)"/>
<circle cx="267.90000000000003" cy="370.6" r="28.0" fill="url(#innerg)"/>
<circle cx="267.6" cy="369.3" r="26.0" fill="url(#ring2)"/>
<circle cx="267.90000000000003" cy="370.90000000000003" r="24.9" fill="url(#innerg)"/>
<ellipse cx="267.6" cy="387.6" rx="24" ry="10" fill="url(#refl)"/>
<ellipse cx="267.6" cy="369.6" rx="22.9" ry="24.3" fill="#b0213d"/>
<circle cx="334.0" cy="369.6" r="32.5" fill="#d3d9d8" opacity="0.6"/>
<circle cx="334.0" cy="369.6" r="29.4" fill="url(#ringg)"/>
<circle cx="334.3" cy="370.6" r="28.0" fill="url(#innerg)"/>
<circle cx="334.0" cy="369.3" r="26.0" fill="url(#ring2)"/>
<circle cx="334.3" cy="370.90000000000003" r="24.9" fill="url(#innerg)"/>
<ellipse cx="334.0" cy="387.6" rx="24" ry="10" fill="url(#refl)"/>
<ellipse cx="334.0" cy="369.6" rx="22.9" ry="24.3" fill="#cd5257"/>
<circle cx="401.5" cy="369.6" r="32.5" fill="#d3d9d8" opacity="0.6"/>
<circle cx="401.5" cy="369.6" r="29.4" fill="url(#ringg)"/>
<circle cx="401.8" cy="370.6" r="28.0" fill="url(#innerg)"/>
<circle cx="401.5" cy="369.3" r="26.0" fill="url(#ring2)"/>
<circle cx="401.8" cy="370.90000000000003" r="24.9" fill="url(#innerg)"/>
<ellipse cx="401.5" cy="387.6" rx="24" ry="10" fill="url(#refl)"/>
<ellipse cx="401.5" cy="369.6" rx="22.9" ry="24.3" fill="#c44d5a"/>
<circle cx="468.4" cy="369.6" r="32.5" fill="#d3d9d8" opacity="0.6"/>
<circle cx="468.4" cy="369.6" r="29.4" fill="url(#ringg)"/>
<circle cx="468.7" cy="370.6" r="28.0" fill="url(#innerg)"/>
<circle cx="468.4" cy="369.3" r="26.0" fill="url(#ring2)"/>
<circle cx="468.7" cy="370.90000000000003" r="24.9" fill="url(#innerg)"/>
<ellipse cx="468.4" cy="387.6" rx="24" ry="10" fill="url(#refl)"/>
<ellipse cx="468.4" cy="369.6" rx="22.9" ry="24.3" fill="#cf5459"/>
<text x="163.0" y="336.2" font-size="9" fill="#ffffff" stroke="#7f8786" stroke-width="0.6">B2</text>
<text x="163.0" y="408.5" font-size="9" fill="#ffffff" stroke="#7f8786" stroke-width="0.6">C2</text>
<text x="230.60000000000002" y="336.2" font-size="9" fill="#ffffff" stroke="#7f8786" stroke-width="0.6">B3</text>
<text x="230.60000000000002" y="408.5" font-size="9" fill="#ffffff" stroke="#7f8786" stroke-width="0.6">C3</text>
<text x="297.0" y="336.2" font-size="9" fill="#ffffff" stroke="#7f8786" stroke-width="0.6">B4</text>
<text x="297.0" y="408.5" font-size="9" fill="#ffffff" stroke="#7f8786" stroke-width="0.6">C4</text>
<text x="364.5" y="336.2" font-size="9" fill="#ffffff" stroke="#7f8786" stroke-width="0.6">B5</text>
<text x="364.5" y="408.5" font-size="9" fill="#ffffff" stroke="#7f8786" stroke-width="0.6">C5</text>
<text x="431.4" y="336.2" font-size="9" fill="#ffffff" stroke="#7f8786" stroke-width="0.6">B6</text>
<text x="431.4" y="408.5" font-size="9" fill="#ffffff" stroke="#7f8786" stroke-width="0.6">C6</text>
</g>
<text transform="translate(0,426.6) scale(1.025,1)" font-size="12.5" stroke="#000" stroke-width="0.45">genomic <tspan font-style="italic">Brd2</tspan></text>
<text transform="translate(0,447.8) scale(1.025,1)" font-size="12.5" stroke="#000" stroke-width="0.45">exogenous <tspan font-style="italic">Brd2</tspan></text>
<text transform="translate(0,469.0) scale(1.025,1)" font-size="12.5" stroke="#000" stroke-width="0.45">exogenous <tspan font-style="italic">Brd</tspan>3</text>
<path d="M129.8,421.5H137.8M133.8,417.5V425.5" stroke="#000" stroke-width="1.9"/>
<path d="M198.8,422.3H204.4" stroke="#000" stroke-width="2.0"/>
<path d="M264.4,421.5H272.4M268.4,417.5V425.5" stroke="#000" stroke-width="1.9"/>
<path d="M329.8,422.3H335.4" stroke="#000" stroke-width="2.0"/>
<path d="M399.0,421.5H407.0M403.0,417.5V425.5" stroke="#000" stroke-width="1.9"/>
<path d="M467.4,422.3H473.0" stroke="#000" stroke-width="2.0"/>
<path d="M131.0,443.8H136.6" stroke="#000" stroke-width="2.0"/>
<path d="M198.8,443.8H204.4" stroke="#000" stroke-width="2.0"/>
<path d="M264.4,443.0H272.4M268.4,439.0V447.0" stroke="#000" stroke-width="1.9"/>
<path d="M328.6,443.0H336.6M332.6,439.0V447.0" stroke="#000" stroke-width="1.9"/>
<path d="M400.2,443.8H405.8" stroke="#000" stroke-width="2.0"/>
<path d="M467.4,443.8H473.0" stroke="#000" stroke-width="2.0"/>
<path d="M131.0,465.1H136.6" stroke="#000" stroke-width="2.0"/>
<path d="M198.8,465.1H204.4" stroke="#000" stroke-width="2.0"/>
<path d="M265.6,465.1H271.2" stroke="#000" stroke-width="2.0"/>
<path d="M329.8,465.1H335.4" stroke="#000" stroke-width="2.0"/>
<path d="M399.0,464.3H407.0M403.0,460.3V468.3" stroke="#000" stroke-width="1.9"/>
<path d="M466.2,464.3H474.2M470.2,460.3V468.3" stroke="#000" stroke-width="1.9"/>
<text transform="translate(1.8,502.0) scale(1.0,1)" font-size="17.0" font-weight="bold" font-style="normal" text-anchor="start" fill="#000" stroke="#000" stroke-width="0.2" >C</text>
<text transform="translate(77.4,618.2) rotate(-90) scale(1.035,1)" font-size="12.7" fill="#000" stroke="#000" stroke-width="0.45">mRNA / GAPDH</text>
<rect x="98.60" y="505.20" width="127.00" height="144.80" fill="#fff" stroke="#b4b4b4" stroke-width="1.2" />
<line x1="110.70" y1="506.20" x2="110.70" y2="643.60" stroke="#eeeeee" stroke-width="1" />
<line x1="131.30" y1="506.20" x2="131.30" y2="643.60" stroke="#eeeeee" stroke-width="1" />
<line x1="151.90" y1="506.20" x2="151.90" y2="643.60" stroke="#eeeeee" stroke-width="1" />
<line x1="172.50" y1="506.20" x2="172.50" y2="643.60" stroke="#eeeeee" stroke-width="1" />
<line x1="193.10" y1="506.20" x2="193.10" y2="643.60" stroke="#eeeeee" stroke-width="1" />
<line x1="213.70" y1="506.20" x2="213.70" y2="643.60" stroke="#eeeeee" stroke-width="1" />
<line x1="99.60" y1="521.50" x2="224.60" y2="521.50" stroke="#eeeeee" stroke-width="1" />
<line x1="99.60" y1="562.00" x2="224.60" y2="562.00" stroke="#eeeeee" stroke-width="1" />
<line x1="99.60" y1="602.50" x2="224.60" y2="602.50" stroke="#eeeeee" stroke-width="1" />
<text transform="translate(143.64,500.0) scale(1.0091,1)" font-size="11.9" font-weight="bold" font-style="italic" text-anchor="start" fill="#000" stroke="#000" stroke-width="0.2" >Hbb-b1</text>
<rect x="101.20" y="639.50" width="9.30" height="4.10" fill="#000" />
<rect x="111.20" y="534.30" width="9.00" height="109.30" fill="#8a0808" stroke="#3a0606" stroke-width="1" />
<line x1="115.70" y1="512.50" x2="115.70" y2="555.00" stroke="#3a0a0a" stroke-width="1.1" />
<line x1="111.50" y1="512.50" x2="119.90" y2="512.50" stroke="#3a0a0a" stroke-width="1.2" />
<line x1="111.50" y1="555.00" x2="119.90" y2="555.00" stroke="#3a0a0a" stroke-width="1.0" opacity="0.6"/>
<rect x="121.80" y="641.50" width="9.30" height="2.10" fill="#000" />
<rect x="131.80" y="635.00" width="9.00" height="8.60" fill="#8a0808" stroke="#3a0606" stroke-width="1" />
<line x1="136.30" y1="633.00" x2="136.30" y2="636.00" stroke="#3a0a0a" stroke-width="1.1" />
<line x1="132.10" y1="633.00" x2="140.50" y2="633.00" stroke="#3a0a0a" stroke-width="1.2" />
<line x1="132.10" y1="636.00" x2="140.50" y2="636.00" stroke="#3a0a0a" stroke-width="1.0" opacity="0.6"/>
<rect x="142.40" y="640.50" width="9.30" height="3.10" fill="#000" />
<rect x="152.40" y="548.80" width="9.00" height="94.80" fill="#8a0808" stroke="#3a0606" stroke-width="1" />
<line x1="156.90" y1="535.00" x2="156.90" y2="561.30" stroke="#3a0a0a" stroke-width="1.1" />
<line x1="152.70" y1="535.00" x2="161.10" y2="535.00" stroke="#3a0a0a" stroke-width="1.2" />
<line x1="152.70" y1="561.30" x2="161.10" y2="561.30" stroke="#3a0a0a" stroke-width="1.0" opacity="0.6"/>
<rect x="163.00" y="639.30" width="9.30" height="4.30" fill="#000" />
<rect x="173.00" y="587.30" width="9.00" height="56.30" fill="#8a0808" stroke="#3a0606" stroke-width="1" />
<line x1="177.50" y1="580.00" x2="177.50" y2="593.00" stroke="#3a0a0a" stroke-width="1.1" />
<line x1="173.30" y1="580.00" x2="181.70" y2="580.00" stroke="#3a0a0a" stroke-width="1.2" />
<line x1="173.30" y1="593.00" x2="181.70" y2="593.00" stroke="#3a0a0a" stroke-width="1.0" opacity="0.6"/>
<rect x="183.60" y="642.00" width="9.30" height="1.60" fill="#000" />
<rect x="193.60" y="565.70" width="9.00" height="77.90" fill="#8a0808" stroke="#3a0606" stroke-width="1" />
<line x1="198.10" y1="555.40" x2="198.10" y2="574.70" stroke="#3a0a0a" stroke-width="1.1" />
<line x1="193.90" y1="555.40" x2="202.30" y2="555.40" stroke="#3a0a0a" stroke-width="1.2" />
<line x1="193.90" y1="574.70" x2="202.30" y2="574.70" stroke="#3a0a0a" stroke-width="1.0" opacity="0.6"/>
<rect x="204.20" y="642.00" width="9.30" height="1.60" fill="#000" />
<rect x="214.20" y="589.30" width="9.00" height="54.30" fill="#8a0808" stroke="#3a0606" stroke-width="1" />
<line x1="218.70" y1="582.20" x2="218.70" y2="595.00" stroke="#3a0a0a" stroke-width="1.1" />
<line x1="214.50" y1="582.20" x2="222.90" y2="582.20" stroke="#3a0a0a" stroke-width="1.2" />
<line x1="214.50" y1="595.00" x2="222.90" y2="595.00" stroke="#3a0a0a" stroke-width="1.0" opacity="0.6"/>
<rect x="243.30" y="505.20" width="126.30" height="144.80" fill="#fff" stroke="#b4b4b4" stroke-width="1.2" />
<line x1="255.20" y1="506.20" x2="255.20" y2="643.60" stroke="#eeeeee" stroke-width="1" />
<line x1="275.75" y1="506.20" x2="275.75" y2="643.60" stroke="#eeeeee" stroke-width="1" />
<line x1="296.30" y1="506.20" x2="296.30" y2="643.60" stroke="#eeeeee" stroke-width="1" />
<line x1="316.85" y1="506.20" x2="316.85" y2="643.60" stroke="#eeeeee" stroke-width="1" />
<line x1="337.40" y1="506.20" x2="337.40" y2="643.60" stroke="#eeeeee" stroke-width="1" />
<line x1="357.95" y1="506.20" x2="357.95" y2="643.60" stroke="#eeeeee" stroke-width="1" />
<line x1="244.30" y1="521.50" x2="368.60" y2="521.50" stroke="#eeeeee" stroke-width="1" />
<line x1="244.30" y1="552.30" x2="368.60" y2="552.30" stroke="#eeeeee" stroke-width="1" />
<line x1="244.30" y1="583.00" x2="368.60" y2="583.00" stroke="#eeeeee" stroke-width="1" />
<line x1="244.30" y1="613.50" x2="368.60" y2="613.50" stroke="#eeeeee" stroke-width="1" />
<text transform="translate(297.59,500.0) scale(0.985,1)" font-size="11.9" font-weight="bold" font-style="italic" text-anchor="start" fill="#000" stroke="#000" stroke-width="0.2" >Alas2</text>
<rect x="245.70" y="642.00" width="9.30" height="1.60" fill="#000" />
<rect x="255.70" y="525.80" width="9.00" height="117.80" fill="#8a0808" stroke="#3a0606" stroke-width="1" />
<line x1="260.20" y1="512.10" x2="260.20" y2="539.40" stroke="#3a0a0a" stroke-width="1.1" />
<line x1="256.00" y1="512.10" x2="264.40" y2="512.10" stroke="#3a0a0a" stroke-width="1.2" />
<line x1="256.00" y1="539.40" x2="264.40" y2="539.40" stroke="#3a0a0a" stroke-width="1.0" opacity="0.6"/>
<rect x="266.25" y="642.00" width="9.30" height="1.60" fill="#000" />
<rect x="276.25" y="604.80" width="9.00" height="38.80" fill="#8a0808" stroke="#3a0606" stroke-width="1" />
<line x1="280.75" y1="600.90" x2="280.75" y2="607.70" stroke="#3a0a0a" stroke-width="1.1" />
<line x1="276.55" y1="600.90" x2="284.95" y2="600.90" stroke="#3a0a0a" stroke-width="1.2" />
<line x1="276.55" y1="607.70" x2="284.95" y2="607.70" stroke="#3a0a0a" stroke-width="1.0" opacity="0.6"/>
<rect x="286.80" y="642.00" width="9.30" height="1.60" fill="#000" />
<rect x="296.80" y="538.30" width="9.00" height="105.30" fill="#8a0808" stroke="#3a0606" stroke-width="1" />
<line x1="301.30" y1="531.40" x2="301.30" y2="544.20" stroke="#3a0a0a" stroke-width="1.1" />
<line x1="297.10" y1="531.40" x2="305.50" y2="531.40" stroke="#3a0a0a" stroke-width="1.2" />
<line x1="297.10" y1="544.20" x2="305.50" y2="544.20" stroke="#3a0a0a" stroke-width="1.0" opacity="0.6"/>
<rect x="307.35" y="642.00" width="9.30" height="1.60" fill="#000" />
<rect x="317.35" y="543.90" width="9.00" height="99.70" fill="#8a0808" stroke="#3a0606" stroke-width="1" />
<line x1="321.85" y1="536.70" x2="321.85" y2="550.00" stroke="#3a0a0a" stroke-width="1.1" />
<line x1="317.65" y1="536.70" x2="326.05" y2="536.70" stroke="#3a0a0a" stroke-width="1.2" />
<line x1="317.65" y1="550.00" x2="326.05" y2="550.00" stroke="#3a0a0a" stroke-width="1.0" opacity="0.6"/>
<rect x="327.90" y="642.00" width="9.30" height="1.60" fill="#000" />
<rect x="337.90" y="540.60" width="9.00" height="103.00" fill="#8a0808" stroke="#3a0606" stroke-width="1" />
<line x1="342.40" y1="531.90" x2="342.40" y2="548.30" stroke="#3a0a0a" stroke-width="1.1" />
<line x1="338.20" y1="531.90" x2="346.60" y2="531.90" stroke="#3a0a0a" stroke-width="1.2" />
<line x1="338.20" y1="548.30" x2="346.60" y2="548.30" stroke="#3a0a0a" stroke-width="1.0" opacity="0.6"/>
<rect x="348.45" y="642.00" width="9.30" height="1.60" fill="#000" />
<rect x="358.45" y="568.80" width="9.00" height="74.80" fill="#8a0808" stroke="#3a0606" stroke-width="1" />
<line x1="362.95" y1="562.90" x2="362.95" y2="573.70" stroke="#3a0a0a" stroke-width="1.1" />
<line x1="358.75" y1="562.90" x2="367.15" y2="562.90" stroke="#3a0a0a" stroke-width="1.2" />
<line x1="358.75" y1="573.70" x2="367.15" y2="573.70" stroke="#3a0a0a" stroke-width="1.0" opacity="0.6"/>
<rect x="386.70" y="505.20" width="126.40" height="144.80" fill="#fff" stroke="#b4b4b4" stroke-width="1.2" />
<line x1="398.70" y1="506.20" x2="398.70" y2="643.60" stroke="#eeeeee" stroke-width="1" />
<line x1="419.10" y1="506.20" x2="419.10" y2="643.60" stroke="#eeeeee" stroke-width="1" />
<line x1="439.50" y1="506.20" x2="439.50" y2="643.60" stroke="#eeeeee" stroke-width="1" />
<line x1="459.90" y1="506.20" x2="459.90" y2="643.60" stroke="#eeeeee" stroke-width="1" />
<line x1="480.30" y1="506.20" x2="480.30" y2="643.60" stroke="#eeeeee" stroke-width="1" />
<line x1="500.70" y1="506.20" x2="500.70" y2="643.60" stroke="#eeeeee" stroke-width="1" />
<line x1="387.70" y1="509.50" x2="512.10" y2="509.50" stroke="#eeeeee" stroke-width="1" />
<line x1="387.70" y1="576.00" x2="512.10" y2="576.00" stroke="#eeeeee" stroke-width="1" />
<text transform="translate(434.8,500.0) scale(1.0073,1)" font-size="11.9" font-weight="bold" font-style="italic" text-anchor="start" fill="#000" stroke="#000" stroke-width="0.2" >Slc4a1</text>
<rect x="389.20" y="642.00" width="9.30" height="1.60" fill="#000" />
<rect x="399.20" y="559.30" width="9.00" height="84.30" fill="#8a0808" stroke="#3a0606" stroke-width="1" />
<line x1="403.70" y1="542.40" x2="403.70" y2="575.20" stroke="#3a0a0a" stroke-width="1.1" />
<line x1="399.50" y1="542.40" x2="407.90" y2="542.40" stroke="#3a0a0a" stroke-width="1.2" />
<line x1="399.50" y1="575.20" x2="407.90" y2="575.20" stroke="#3a0a0a" stroke-width="1.0" opacity="0.6"/>
<rect x="409.60" y="642.00" width="9.30" height="1.60" fill="#000" />
<rect x="419.60" y="601.00" width="9.00" height="42.60" fill="#8a0808" stroke="#3a0606" stroke-width="1" />
<line x1="424.10" y1="595.20" x2="424.10" y2="605.80" stroke="#3a0a0a" stroke-width="1.1" />
<line x1="419.90" y1="595.20" x2="428.30" y2="595.20" stroke="#3a0a0a" stroke-width="1.2" />
<line x1="419.90" y1="605.80" x2="428.30" y2="605.80" stroke="#3a0a0a" stroke-width="1.0" opacity="0.6"/>
<rect x="430.00" y="642.00" width="9.30" height="1.60" fill="#000" />
<rect x="440.00" y="548.30" width="9.00" height="95.30" fill="#8a0808" stroke="#3a0606" stroke-width="1" />
<line x1="444.50" y1="534.90" x2="444.50" y2="562.20" stroke="#3a0a0a" stroke-width="1.1" />
<line x1="440.30" y1="534.90" x2="448.70" y2="534.90" stroke="#3a0a0a" stroke-width="1.2" />
<line x1="440.30" y1="562.20" x2="448.70" y2="562.20" stroke="#3a0a0a" stroke-width="1.0" opacity="0.6"/>
<rect x="450.40" y="642.00" width="9.30" height="1.60" fill="#000" />
<rect x="460.40" y="514.90" width="9.00" height="128.70" fill="#8a0808" stroke="#3a0606" stroke-width="1" />
<line x1="464.90" y1="512.10" x2="464.90" y2="516.70" stroke="#3a0a0a" stroke-width="1.1" />
<line x1="460.70" y1="512.10" x2="469.10" y2="512.10" stroke="#3a0a0a" stroke-width="1.2" />
<line x1="460.70" y1="516.70" x2="469.10" y2="516.70" stroke="#3a0a0a" stroke-width="1.0" opacity="0.6"/>
<rect x="470.80" y="642.00" width="9.30" height="1.60" fill="#000" />
<rect x="480.80" y="598.70" width="9.00" height="44.90" fill="#8a0808" stroke="#3a0606" stroke-width="1" />
<line x1="485.30" y1="588.40" x2="485.30" y2="608.00" stroke="#3a0a0a" stroke-width="1.1" />
<line x1="481.10" y1="588.40" x2="489.50" y2="588.40" stroke="#3a0a0a" stroke-width="1.2" />
<line x1="481.10" y1="608.00" x2="489.50" y2="608.00" stroke="#3a0a0a" stroke-width="1.0" opacity="0.6"/>
<rect x="491.20" y="642.00" width="9.30" height="1.60" fill="#000" />
<rect x="501.20" y="595.00" width="9.00" height="48.60" fill="#8a0808" stroke="#3a0606" stroke-width="1" />
<line x1="505.70" y1="589.50" x2="505.70" y2="599.50" stroke="#3a0a0a" stroke-width="1.1" />
<line x1="501.50" y1="589.50" x2="509.90" y2="589.50" stroke="#3a0a0a" stroke-width="1.2" />
<line x1="501.50" y1="599.50" x2="509.90" y2="599.50" stroke="#3a0a0a" stroke-width="1.0" opacity="0.6"/>
<text transform="translate(93.8,524.0) scale(0.95,1)" font-size="10.3" font-weight="bold" font-style="normal" text-anchor="end" fill="#000" stroke="#000" stroke-width="0.1" >15</text>
<text transform="translate(93.8,564.8) scale(0.95,1)" font-size="10.3" font-weight="bold" font-style="normal" text-anchor="end" fill="#000" stroke="#000" stroke-width="0.1" >10</text>
<text transform="translate(93.8,605.0) scale(0.95,1)" font-size="10.3" font-weight="bold" font-style="normal" text-anchor="end" fill="#000" stroke="#000" stroke-width="0.1" >5</text>
<text transform="translate(93.8,645.3) scale(0.95,1)" font-size="10.3" font-weight="bold" font-style="normal" text-anchor="end" fill="#000" stroke="#000" stroke-width="0.1" >0</text>
<text transform="translate(238.9,524.7) scale(0.95,1)" font-size="10.3" font-weight="bold" font-style="normal" text-anchor="end" fill="#000" stroke="#000" stroke-width="0.1" >.4</text>
<text transform="translate(238.9,556.2) scale(0.95,1)" font-size="10.3" font-weight="bold" font-style="normal" text-anchor="end" fill="#000" stroke="#000" stroke-width="0.1" >.3</text>
<text transform="translate(238.9,586.6) scale(0.95,1)" font-size="10.3" font-weight="bold" font-style="normal" text-anchor="end" fill="#000" stroke="#000" stroke-width="0.1" >.2</text>
<text transform="translate(238.9,617.5) scale(0.95,1)" font-size="10.3" font-weight="bold" font-style="normal" text-anchor="end" fill="#000" stroke="#000" stroke-width="0.1" >.1</text>
<text transform="translate(238.9,648.1) scale(0.95,1)" font-size="10.3" font-weight="bold" font-style="normal" text-anchor="end" fill="#000" stroke="#000" stroke-width="0.1" >0</text>
<text transform="translate(382.8,512.4) scale(0.95,1)" font-size="10.3" font-weight="bold" font-style="normal" text-anchor="end" fill="#000" stroke="#000" stroke-width="0.1" >.1</text>
<text transform="translate(385.3,578.6) scale(0.95,1)" font-size="10.3" font-weight="bold" font-style="normal" text-anchor="end" fill="#000" stroke="#000" stroke-width="0.1" >.05</text>
<text transform="translate(382.8,658.1) scale(0.95,1)" font-size="10.3" font-weight="bold" font-style="normal" text-anchor="end" fill="#000" stroke="#000" stroke-width="0.1" >0</text>
<path d="M175.80,570.80L175.80,575.20M177.71,571.90L173.89,574.10M177.71,574.10L173.89,571.90" stroke="#000" stroke-width="1.5" stroke-linecap="round"/>
<circle cx="175.80" cy="573.00" r="0.8" fill="#000"/>
<path d="M212.40,571.40L212.40,575.80M214.31,572.50L210.49,574.70M214.31,574.70L210.49,572.50" stroke="#000" stroke-width="1.5" stroke-linecap="round"/>
<circle cx="212.40" cy="573.60" r="0.8" fill="#000"/>
<path d="M315.50,528.40L315.50,532.80M317.41,529.50L313.59,531.70M317.41,531.70L313.59,529.50" stroke="#000" stroke-width="1.5" stroke-linecap="round"/>
<circle cx="315.50" cy="530.60" r="0.8" fill="#000"/>
<path d="M358.00,544.10L358.00,548.50M359.91,545.20L356.09,547.40M359.91,547.40L356.09,545.20" stroke="#000" stroke-width="1.5" stroke-linecap="round"/>
<circle cx="358.00" cy="546.30" r="0.8" fill="#000"/>
<path d="M456.20,505.40L456.20,509.80M458.11,506.50L454.29,508.70M458.11,508.70L454.29,506.50" stroke="#000" stroke-width="1.5" stroke-linecap="round"/>
<circle cx="456.20" cy="507.60" r="0.8" fill="#000"/>
<text transform="translate(0.03,659.9) scale(0.9997,1)" font-size="12.3" font-weight="normal" font-style="normal" text-anchor="start" fill="#000" stroke="#000" stroke-width="0.45" >GATA1</text>
<text transform="translate(0,680.0) scale(1.025,1)" font-size="12.5" stroke="#000" stroke-width="0.45">genomic <tspan font-style="italic">Brd</tspan>2</text>
<text transform="translate(0,701.2) scale(1.025,1)" font-size="12.5" stroke="#000" stroke-width="0.45">exogenous <tspan font-style="italic">Brd2</tspan></text>
<text transform="translate(0,721.2) scale(1.025,1)" font-size="12.5" stroke="#000" stroke-width="0.45">exogenous <tspan font-style="italic">Brd</tspan>3</text>
<path d="M104.0,655.8H108.4" stroke="#000" stroke-width="1.5"/>
<path d="M112.3,655.8H118.7M115.5,652.6V659.0" stroke="#000" stroke-width="1.5"/>
<path d="M107.7,674.2H115.7M111.7,670.2V678.2" stroke="#000" stroke-width="1.9"/>
<path d="M108.9,696.6H114.5" stroke="#000" stroke-width="2.0"/>
<path d="M108.9,717.5H114.5" stroke="#000" stroke-width="2.0"/>
<path d="M124.6,655.8H129.0" stroke="#000" stroke-width="1.5"/>
<path d="M132.9,655.8H139.3M136.1,652.6V659.0" stroke="#000" stroke-width="1.5"/>
<path d="M129.9,675.0H135.5" stroke="#000" stroke-width="2.0"/>
<path d="M129.9,696.6H135.5" stroke="#000" stroke-width="2.0"/>
<path d="M129.9,717.5H135.5" stroke="#000" stroke-width="2.0"/>
<path d="M145.2,655.8H149.6" stroke="#000" stroke-width="1.5"/>
<path d="M153.5,655.8H159.9M156.7,652.6V659.0" stroke="#000" stroke-width="1.5"/>
<path d="M150.2,674.2H158.2M154.2,670.2V678.2" stroke="#000" stroke-width="1.9"/>
<path d="M150.2,695.8H158.2M154.2,691.8V699.8" stroke="#000" stroke-width="1.9"/>
<path d="M151.4,717.5H157.0" stroke="#000" stroke-width="2.0"/>
<path d="M165.8,655.8H170.2" stroke="#000" stroke-width="1.5"/>
<path d="M174.1,655.8H180.5M177.3,652.6V659.0" stroke="#000" stroke-width="1.5"/>
<path d="M170.8,675.0H176.4" stroke="#000" stroke-width="2.0"/>
<path d="M169.6,695.8H177.6M173.6,691.8V699.8" stroke="#000" stroke-width="1.9"/>
<path d="M170.8,717.5H176.4" stroke="#000" stroke-width="2.0"/>
<path d="M186.4,655.8H190.8" stroke="#000" stroke-width="1.5"/>
<path d="M194.7,655.8H201.1M197.9,652.6V659.0" stroke="#000" stroke-width="1.5"/>
<path d="M188.5,674.2H196.5M192.5,670.2V678.2" stroke="#000" stroke-width="1.9"/>
<path d="M189.7,696.6H195.3" stroke="#000" stroke-width="2.0"/>
<path d="M188.5,716.7H196.5M192.5,712.7V720.7" stroke="#000" stroke-width="1.9"/>
<path d="M207.0,655.8H211.4" stroke="#000" stroke-width="1.5"/>
<path d="M215.3,655.8H221.7M218.5,652.6V659.0" stroke="#000" stroke-width="1.5"/>
<path d="M212.0,675.0H217.6" stroke="#000" stroke-width="2.0"/>
<path d="M212.0,696.6H217.6" stroke="#000" stroke-width="2.0"/>
<path d="M210.8,716.7H218.8M214.8,712.7V720.7" stroke="#000" stroke-width="1.9"/>
<path d="M248.5,655.8H252.9" stroke="#000" stroke-width="1.5"/>
<path d="M256.8,655.8H263.2M260.0,652.6V659.0" stroke="#000" stroke-width="1.5"/>
<path d="M252.0,674.2H260.0M256.0,670.2V678.2" stroke="#000" stroke-width="1.9"/>
<path d="M253.2,696.6H258.8" stroke="#000" stroke-width="2.0"/>
<path d="M253.2,717.5H258.8" stroke="#000" stroke-width="2.0"/>
<path d="M269.1,655.8H273.4" stroke="#000" stroke-width="1.5"/>
<path d="M277.4,655.8H283.8M280.6,652.6V659.0" stroke="#000" stroke-width="1.5"/>
<path d="M273.9,675.0H279.5" stroke="#000" stroke-width="2.0"/>
<path d="M273.9,696.6H279.5" stroke="#000" stroke-width="2.0"/>
<path d="M273.9,717.5H279.5" stroke="#000" stroke-width="2.0"/>
<path d="M289.6,655.8H294.0" stroke="#000" stroke-width="1.5"/>
<path d="M297.9,655.8H304.3M301.1,652.6V659.0" stroke="#000" stroke-width="1.5"/>
<path d="M294.3,674.2H302.3M298.3,670.2V678.2" stroke="#000" stroke-width="1.9"/>
<path d="M294.3,695.8H302.3M298.3,691.8V699.8" stroke="#000" stroke-width="1.9"/>
<path d="M295.5,717.5H301.1" stroke="#000" stroke-width="2.0"/>
<path d="M310.2,655.8H314.6" stroke="#000" stroke-width="1.5"/>
<path d="M318.5,655.8H324.9M321.7,652.6V659.0" stroke="#000" stroke-width="1.5"/>
<path d="M315.1,675.0H320.7" stroke="#000" stroke-width="2.0"/>
<path d="M313.9,695.8H321.9M317.9,691.8V699.8" stroke="#000" stroke-width="1.9"/>
<path d="M315.1,717.5H320.7" stroke="#000" stroke-width="2.0"/>
<path d="M330.7,655.8H335.1" stroke="#000" stroke-width="1.5"/>
<path d="M339.0,655.8H345.4M342.2,652.6V659.0" stroke="#000" stroke-width="1.5"/>
<path d="M332.8,674.2H340.8M336.8,670.2V678.2" stroke="#000" stroke-width="1.9"/>
<path d="M334.0,696.6H339.6" stroke="#000" stroke-width="2.0"/>
<path d="M332.8,716.7H340.8M336.8,712.7V720.7" stroke="#000" stroke-width="1.9"/>
<path d="M351.2,655.8H355.6" stroke="#000" stroke-width="1.5"/>
<path d="M359.6,655.8H365.9M362.8,652.6V659.0" stroke="#000" stroke-width="1.5"/>
<path d="M356.1,675.0H361.7" stroke="#000" stroke-width="2.0"/>
<path d="M356.1,696.6H361.7" stroke="#000" stroke-width="2.0"/>
<path d="M354.9,716.7H362.9M358.9,712.7V720.7" stroke="#000" stroke-width="1.9"/>
<path d="M392.0,655.8H396.4" stroke="#000" stroke-width="1.5"/>
<path d="M400.3,655.8H406.7M403.5,652.6V659.0" stroke="#000" stroke-width="1.5"/>
<path d="M394.8,674.2H402.8M398.8,670.2V678.2" stroke="#000" stroke-width="1.9"/>
<path d="M396.0,696.6H401.6" stroke="#000" stroke-width="2.0"/>
<path d="M396.0,717.5H401.6" stroke="#000" stroke-width="2.0"/>
<path d="M412.4,655.8H416.8" stroke="#000" stroke-width="1.5"/>
<path d="M420.7,655.8H427.1M423.9,652.6V659.0" stroke="#000" stroke-width="1.5"/>
<path d="M417.0,675.0H422.6" stroke="#000" stroke-width="2.0"/>
<path d="M417.0,696.6H422.6" stroke="#000" stroke-width="2.0"/>
<path d="M417.0,717.5H422.6" stroke="#000" stroke-width="2.0"/>
<path d="M432.8,655.8H437.2" stroke="#000" stroke-width="1.5"/>
<path d="M441.1,655.8H447.5M444.3,652.6V659.0" stroke="#000" stroke-width="1.5"/>
<path d="M437.4,674.2H445.4M441.4,670.2V678.2" stroke="#000" stroke-width="1.9"/>
<path d="M437.4,695.8H445.4M441.4,691.8V699.8" stroke="#000" stroke-width="1.9"/>
<path d="M438.6,717.5H444.2" stroke="#000" stroke-width="2.0"/>
<path d="M453.2,655.8H457.6" stroke="#000" stroke-width="1.5"/>
<path d="M461.5,655.8H467.9M464.7,652.6V659.0" stroke="#000" stroke-width="1.5"/>
<path d="M458.0,675.0H463.6" stroke="#000" stroke-width="2.0"/>
<path d="M456.8,695.8H464.8M460.8,691.8V699.8" stroke="#000" stroke-width="1.9"/>
<path d="M458.0,717.5H463.6" stroke="#000" stroke-width="2.0"/>
<path d="M473.6,655.8H478.0" stroke="#000" stroke-width="1.5"/>
<path d="M481.9,655.8H488.3M485.1,652.6V659.0" stroke="#000" stroke-width="1.5"/>
<path d="M476.2,674.2H484.2M480.2,670.2V678.2" stroke="#000" stroke-width="1.9"/>
<path d="M477.4,696.6H483.0" stroke="#000" stroke-width="2.0"/>
<path d="M476.2,716.7H484.2M480.2,712.7V720.7" stroke="#000" stroke-width="1.9"/>
<path d="M494.0,655.8H498.4" stroke="#000" stroke-width="1.5"/>
<path d="M502.3,655.8H508.7M505.5,652.6V659.0" stroke="#000" stroke-width="1.5"/>
<path d="M499.7,675.0H505.3" stroke="#000" stroke-width="2.0"/>
<path d="M499.7,696.6H505.3" stroke="#000" stroke-width="2.0"/>
<path d="M498.5,716.7H506.5M502.5,712.7V720.7" stroke="#000" stroke-width="1.9"/>
</svg>
</body></html>
